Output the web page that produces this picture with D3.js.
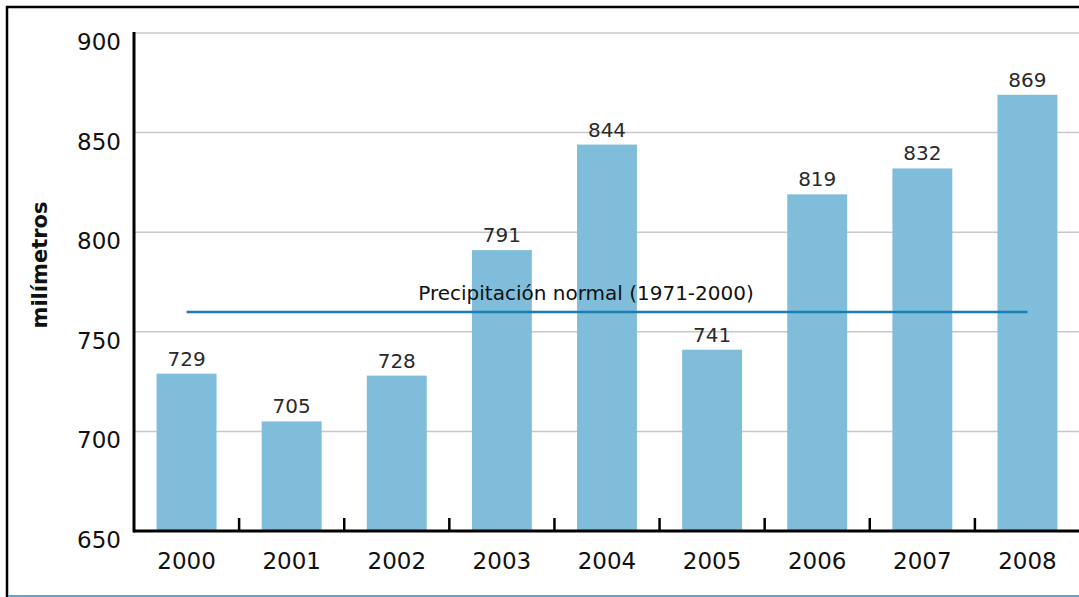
<!DOCTYPE html>
<html>
<head>
<meta charset="utf-8">
<script src="https://cdn.jsdelivr.net/npm/d3@7"></script>
<style>
  body { margin: 0; background: #fff; }
  svg text { font-family: "DejaVu Sans", sans-serif; }
</style>
</head>
<body>
<svg id="chart" width="1079" height="597"></svg>
<script>
// data
var years = ['2000','2001','2002','2003','2004','2005','2006','2007','2008'];
var rainfall = [729, 705, 728, 791, 844, 741, 819, 832, 869];
var yTicks = [650, 700, 750, 800, 850, 900];
var normalValue = 760;
var normalLabel = 'Precipitación normal (1971-2000)';

var svg = d3.select('#chart');

//frame
svg.append('line').attr('x1', 7).attr('x2', 7).attr('y1', 6).attr('y2', 597)
   .attr('stroke', '#000').attr('stroke-width', 2.5);
svg.append('line').attr('x1', 6).attr('x2', 1079).attr('y1', 7).attr('y2', 7)
   .attr('stroke', '#000').attr('stroke-width', 2.5);
svg.append('line').attr('x1', 8).attr('x2', 1079).attr('y1', 596).attr('y2', 596)
   .attr('stroke', '#5aa7d3').attr('stroke-width', 2);

var plotLeft = 134, plotRight = 1080, plotTop = 33, plotBottom = 531;

var x = d3.scaleBand().domain(years).range([plotLeft, plotRight])
          .paddingInner(0.43).paddingOuter(0.215);
var y = d3.scaleLinear().domain([650, 900]).range([plotBottom, plotTop]);

//gridlines
svg.append('g').selectAll('line').data(yTicks.slice(1)).enter().append('line')
   .attr('x1', plotLeft).attr('x2', 1079)
   .attr('y1', function(d){ return y(d) }).attr('y2', function(d){ return y(d) })
   .attr('stroke', '#c8c8c8').attr('stroke-width', 1.5);

//bars
svg.append('g').selectAll('rect').data(rainfall).enter().append('rect')
   .attr('x', function(d, i){ return x(years[i]) })
   .attr('width', x.bandwidth())
   .attr('y', function(d){ return y(d) })
   .attr('height', function(d){ return plotBottom - y(d) })
   .attr('fill', '#80bddb');

//value labels
svg.append('g').selectAll('text').data(rainfall).enter().append('text')
   .attr('x', function(d, i){ return x(years[i]) + x.bandwidth()/2 })
   .attr('y', function(d){ return y(d) - 8 })
   .attr('text-anchor', 'middle')
   .attr('font-size', 20)
   .attr('fill', '#2a2a2a')
   .text(function(d){ return d });

//normal line
var x0 = x(years[0]) + x.bandwidth()/2;
var x1 = x(years[years.length-1]) + x.bandwidth()/2;
svg.append('line').attr('x1', x0).attr('x2', x1)
   .attr('y1', y(normalValue)).attr('y2', y(normalValue))
   .attr('stroke', '#1b7db3').attr('stroke-width', 2.5);
svg.append('text').attr('x', 586).attr('y', y(normalValue) - 12)
   .attr('text-anchor', 'middle').attr('font-size', 20).attr('fill', '#111')
   .text(normalLabel);

//y axis
svg.append('line').attr('x1', plotLeft).attr('x2', plotLeft).attr('y1', plotTop - 1).attr('y2', plotBottom + 1.5)
   .attr('stroke', '#000').attr('stroke-width', 3);
svg.append('g').selectAll('text').data(yTicks).enter().append('text')
   .attr('x', 121)
   .attr('y', function(d){ return y(d) + 17 })
   .attr('text-anchor', 'end')
   .attr('font-size', 23)
   .attr('fill', '#111')
   .text(function(d){ return d });

svg.append('text')
   .attr('transform', 'translate(47,' + 265 + ') rotate(-90)')
   .attr('text-anchor', 'middle')
   .attr('font-size', 21)
   .attr('font-weight', 'bold')
   .attr('fill', '#111')
   .text('milímetros');

//x axis baseline + ticks between bars
svg.append('line').attr('x1', plotLeft).attr('x2', 1079).attr('y1', plotBottom).attr('y2', plotBottom)
   .attr('stroke', '#000').attr('stroke-width', 3);
svg.append('g').selectAll('line').data(years.slice(1)).enter().append('line')
   .attr('x1', function(d){ return x(d) - x.step()*x.paddingInner()/2 })
   .attr('x2', function(d){ return x(d) - x.step()*x.paddingInner()/2 })
   .attr('y1', plotBottom).attr('y2', plotBottom - 13)
   .attr('stroke', '#000').attr('stroke-width', 2.5);
svg.append('g').selectAll('text').data(years).enter().append('text')
   .attr('x', function(d){ return x(d) + x.bandwidth()/2 })
   .attr('y', 569)
   .attr('text-anchor', 'middle')
   .attr('font-size', 23)
   .attr('fill', '#111')
   .text(function(d){ return d });
</script>
</body>
</html>
